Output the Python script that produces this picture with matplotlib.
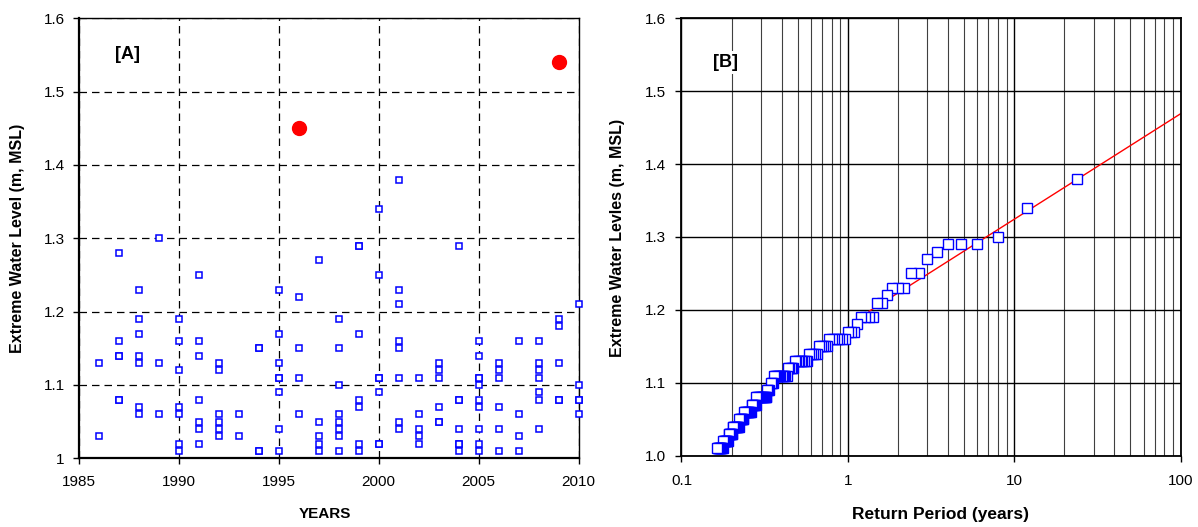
import numpy as np
import matplotlib
matplotlib.use("Agg")
import matplotlib.pyplot as plt
from matplotlib.ticker import FixedLocator, NullFormatter

plt.rcParams['font.family'] = ['Liberation Sans', 'DejaVu Sans']

# extreme water levels (m, MSL) per year
# (some markers sit on top of each other, the repeats come from panel B)
years = list(range(1986, 2011))
levels_by_year = [
    [1.13, 1.03],                                            # 1986
    [1.28, 1.16, 1.14, 1.14, 1.08, 1.08],                    # 1987
    [1.23, 1.19, 1.17, 1.14, 1.13, 1.07, 1.06],              # 1988
    [1.30, 1.13, 1.06],                                      # 1989
    [1.19, 1.16, 1.12, 1.07, 1.06, 1.02, 1.01],              # 1990
    [1.25, 1.16, 1.14, 1.08, 1.05, 1.04, 1.02],              # 1991
    [1.13, 1.12, 1.06, 1.05, 1.04, 1.03],                    # 1992
    [1.06, 1.03],                                            # 1993
    [1.15, 1.15, 1.01, 1.01],                                # 1994
    [1.23, 1.17, 1.13, 1.11, 1.11, 1.09, 1.04, 1.01],        # 1995
    [1.22, 1.15, 1.11, 1.06],                                # 1996
    [1.27, 1.05, 1.03, 1.02, 1.01],                          # 1997
    [1.19, 1.15, 1.10, 1.06, 1.05, 1.04, 1.03, 1.01],        # 1998
    [1.29, 1.29, 1.17, 1.08, 1.07, 1.02, 1.01],              # 1999
    [1.34, 1.25, 1.11, 1.11, 1.09, 1.02, 1.02],              # 2000
    [1.38, 1.23, 1.21, 1.16, 1.15, 1.11, 1.05, 1.04],        # 2001
    [1.11, 1.06, 1.04, 1.03, 1.02],                          # 2002
    [1.13, 1.12, 1.11, 1.07, 1.05, 1.05],                    # 2003
    [1.29, 1.08, 1.08, 1.04, 1.02, 1.02, 1.01],              # 2004
    [1.16, 1.14, 1.11, 1.11, 1.10, 1.08, 1.07, 1.04, 1.02, 1.01],  # 2005
    [1.13, 1.12, 1.11, 1.07, 1.04, 1.01],                    # 2006
    [1.16, 1.06, 1.03, 1.01],                                # 2007
    [1.16, 1.13, 1.12, 1.11, 1.09, 1.08, 1.04],              # 2008
    [1.19, 1.18, 1.13, 1.08, 1.08],                          # 2009
    [1.21, 1.10, 1.08, 1.08, 1.06],                          # 2010
]

# the two red events (not part of the frequency analysis)
red_years = [1996, 2009]
red_levels = [1.45, 1.54]

# panel B: plotting position T = record_years / rank
record_years = 24
fit_T = [1.34, 100]
fit_level = [1.198, 1.469]

a_yticks = [1.0, 1.1, 1.2, 1.3, 1.4, 1.5, 1.6]
a_ytick_labels = ['1', '1.1', '1.2', '1.3', '1.4', '1.5', '1.6']
a_xticks = [1985, 1990, 1995, 2000, 2005, 2010]
b_yticks = [1.0, 1.1, 1.2, 1.3, 1.4, 1.5, 1.6]
b_ytick_labels = ['1.0', '1.1', '1.2', '1.3', '1.4', '1.5', '1.6']
b_xticks = [0.1, 1, 10, 100]
b_xtick_labels = ['0.1', '1', '10', '100']

obs_year = []
obs_level = []
for yr, lv in zip(years, levels_by_year):
    obs_year += [yr] * len(lv)
    obs_level += lv

sorted_levels = np.sort(np.array(obs_level))[::-1]
rank = np.arange(1, len(sorted_levels) + 1)
ret_period = record_years / rank

fig = plt.figure(figsize=(11.98, 5.27), dpi=100)
W, H = 1198.0, 527.0

# ---------------- panel A ----------------
axA = fig.add_axes([78.5 / W, 1 - 458.3 / H, 500 / W, 440 / H])
axA.plot(obs_year, obs_level, 's', ms=5, mfc='white', mec='#0000FF', mew=1.1,
         linestyle='none', clip_on=False, zorder=3)
axA.plot(red_years, red_levels, 'o', ms=10, color='#FF0000', mec='#FF0000',
         linestyle='none', zorder=4)
axA.set_xlim(1985, 2010)
axA.set_ylim(1.0, 1.6)
axA.set_xticks(a_xticks)
axA.set_yticks(a_yticks)
axA.set_yticklabels(a_ytick_labels)
axA.grid(True, color='black', linestyle=(0, (6, 4)), linewidth=0.9)
axA.tick_params(direction='out', length=4, width=1, labelsize=11, color='black')
axA.tick_params(axis='x', pad=8)
axA.tick_params(axis='y', pad=6)
for s in ['left', 'bottom']:
    axA.spines[s].set_linewidth(1.6)
for s in ['top', 'right']:
    axA.spines[s].set_linewidth(1.0)
axA.text((127 - 78.5) / 500, 1 - (55 - 18.3) / 440, '[A]', transform=axA.transAxes,
         ha='center', va='center', fontsize=13, fontweight='bold')

fig.text(18 / W, 1 - 238 / H, 'Extreme Water Level (m, MSL)', rotation=90,
         ha='center', va='center', fontsize=11.5, fontweight='bold')
fig.text(325 / W, 1 - 514 / H, 'YEARS', ha='center', va='center',
         fontsize=11, fontweight='bold')

# ---------------- panel B ----------------
axB = fig.add_axes([681.5 / W, 1 - 455.7 / H, 499 / W, 437.4 / H])
axB.set_xscale('log')
axB.plot(fit_T, fit_level, color='#FF0000', linewidth=1.0, zorder=2)
axB.plot(ret_period, sorted_levels, 's', ms=7.2, mfc='white', mec='#0000FF',
         mew=1.0, linestyle='none', zorder=3)
axB.set_xlim(0.1, 100)
axB.set_ylim(1.0, 1.6)
axB.set_xticks(b_xticks)
axB.set_xticklabels(b_xtick_labels)
axB.xaxis.set_minor_locator(FixedLocator([m * 10.0 ** e for e in (-1, 0, 1) for m in range(2, 10)]))
axB.xaxis.set_minor_formatter(NullFormatter())
axB.set_yticks(b_yticks)
axB.set_yticklabels(b_ytick_labels)
axB.grid(True, which='major', color='black', linestyle='-', linewidth=1.0)
axB.grid(True, which='minor', axis='x', color='0.25', linestyle='-', linewidth=0.8)
axB.tick_params(which='major', direction='out', length=4, width=1, labelsize=11)
axB.tick_params(which='minor', length=0)
axB.tick_params(axis='x', pad=9)
axB.tick_params(axis='y', pad=7)
for s in axB.spines.values():
    s.set_linewidth(1.3)
axB.text((726 - 681.5) / 499, 1 - (62.5 - 18.3) / 437.4, '[B]', transform=axB.transAxes,
         ha='center', va='center', fontsize=13, fontweight='bold', zorder=5,
         bbox=dict(facecolor='white', edgecolor='none', pad=2))

fig.text(617 / W, 1 - 238 / H, 'Extreme Water Levles (m, MSL)', rotation=90,
         ha='center', va='center', fontsize=11.5, fontweight='bold')
fig.text(941 / W, 1 - 514 / H, 'Return Period (years)', ha='center', va='center',
         fontsize=12.5, fontweight='bold')

fig.savefig('out.png', dpi=100)
